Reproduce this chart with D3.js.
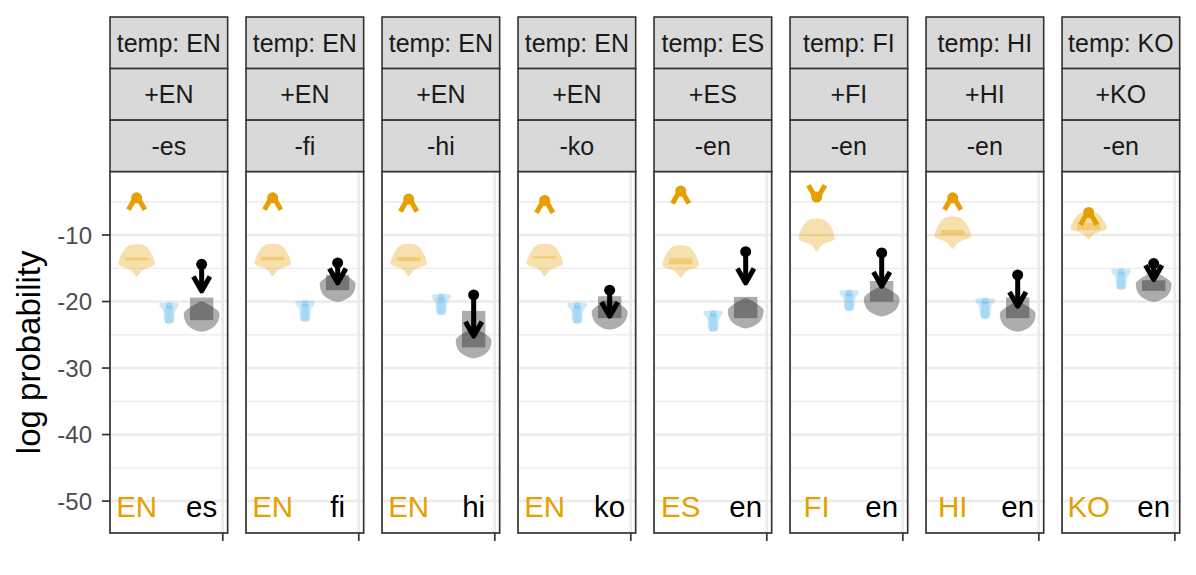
<!DOCTYPE html>
<html>
<head>
<meta charset="utf-8">
<script src="https://cdn.jsdelivr.net/npm/d3@7"></script>
<style>
  html, body { margin: 0; padding: 0; background: #fff; }
  svg { display: block; font-family: "Liberation Sans", Arial, sans-serif; }
</style>
</head>
<body>
<svg id="chart" width="1196" height="575"></svg>
<script>
// facet strip labels (three rows)
const tempLabels = ['temp: EN', 'temp: EN', 'temp: EN', 'temp: EN', 'temp: ES', 'temp: FI', 'temp: HI', 'temp: KO'];
const posLabels = ['+EN', '+EN', '+EN', '+EN', '+ES', '+FI', '+HI', '+KO'];
const negLabels = ['-es', '-fi', '-hi', '-ko', '-en', '-en', '-en', '-en'];
// text under the marks
const posText = ['EN', 'EN', 'EN', 'EN', 'ES', 'FI', 'HI', 'KO'];
const negText = ['es', 'fi', 'hi', 'ko', 'en', 'en', 'en', 'en'];

// positive language (orange)
const posArrowFrom = [-4.4, -4.4, -4.6, -4.8, -3.4, -4.3, -4.4, -6.6];
const posArrowTo = [-4.05, -4.05, -4.3, -4.5, -3.1, -4.65, -4.05, -6.3];
const posMode = [-14.33, -14.26, -14.26, -14.26, -14.5, -10.5, -10.15, -9.0];
const posSpread = [1, 1, 1, 1, 1, 1, 1, 0.85];
const posLo = [-13.8, -13.8, -13.9, -13.5, -14.4, -10.1, -10.0, -9.25];
const posHi = [-13.4, -13.3, -13.3, -13.2, -13.5, -10.0, -9.25, -8.2];
// control (blue)
const ctrlMode = [-21.8, -21.5, -20.5, -21.8, -23.0, -19.9, -21.1, -16.7];
// negative language (grey / black)
const negHi = [-19.4, -16.0, -21.4, -19.2, -19.3, -16.9, -19.4, -16.8];
const negLo = [-22.8, -18.3, -26.9, -22.5, -22.5, -20.0, -22.5, -18.4];
const negMode = [-21.8, -17.3, -25.8, -21.5, -21.3, -19.5, -21.8, -17.3];
const negArrowFrom = [-14.4, -14.2, -19.0, -18.3, -12.5, -12.7, -16.0, -14.3];
const negArrowTo = [-18.4, -17.2, -25.2, -22.2, -17.2, -17.7, -20.7, -16.7];

// axis breaks
const yTicks = [-10, -20, -30, -40, -50];
const yMinor = [-5, -15, -25, -35, -45];
const xTicks = [3.65];

// violin outlines: [offset from widest point, relative half width]
const posShape = [[2.95, 0], [2.9, 0.26], [2.7, 0.46], [2.2, 0.66], [1.5, 0.82], [0.75, 0.94], [0, 1],
  [-0.3, 0.93], [-0.6, 0.62], [-0.9, 0.36], [-1.2, 0.22], [-1.6, 0.13], [-1.95, 0]];
const negShape = [[1.85, 0], [1.75, 0.1], [1.3, 0.42], [0.7, 0.77], [0.2, 0.97], [0, 1], [-0.5, 0.99],
  [-1.1, 0.93], [-1.7, 0.8], [-2.2, 0.58], [-2.5, 0.36], [-2.68, 0.14], [-2.75, 0]];
const ctrlShape = [[1.6, 0.7], [1.45, 1], [1.0, 0.92], [0.5, 0.66], [0.1, 0.58], [-0.7, 0.56],
  [-1.2, 0.46], [-1.5, 0.28], [-1.62, 0]];

const orange = '#E69F00', blue = '#56B4E9';
const svg = d3.select('#chart');

const fx = d3.scaleBand().domain(d3.range(8)).range([110, 1179.7]).paddingInner(0.135).paddingOuter(0);
const bw = fx.bandwidth();
const x = d3.scaleLinear().domain([0.18, 3.8]).range([0, bw]);
const y = d3.scaleLinear().domain([-54.8, -0.48]).range([533, 171.7]);
const panelTop = 171.7, panelBottom = 533;
const stripTop = 17, stripH = 51.57;

svg.append('defs').append('clipPath').attr('id', 'clip')
  .append('rect').attr('x', 0).attr('y', panelTop).attr('width', bw).attr('height', panelBottom - panelTop);

function violin(g, cx, mode, shape, hw, scale, color, op) {
  const area = d3.area()
    .curve(d3.curveCatmullRom.alpha(0.5))
    .y(d => y(mode + d[0] * scale))
    .x0(d => x(cx - d[1] * hw))
    .x1(d => x(cx + d[1] * hw));
  g.append('path').attr('d', area(shape)).attr('fill', color).attr('fill-opacity', op);
}

function box(g, cx, lo, hi, hw, color, op) {
  g.append('rect')
    .attr('x', x(cx - hw)).attr('width', x(cx + hw) - x(cx - hw))
    .attr('y', y(Math.max(lo, hi))).attr('height', Math.abs(y(lo) - y(hi)))
    .attr('fill', color).attr('fill-opacity', op);
}

function arrow(g, cx, from, to, color) {
  const x0 = x(cx), y0 = y(from), y1 = y(to);
  const dir = Math.sign(y1 - y0) || 1;
  const L = 16.5;
  g.append('line').attr('x1', x0).attr('x2', x0).attr('y1', y0).attr('y2', y1)
    .attr('stroke', color).attr('stroke-width', 5);
  g.append('path')
    .attr('d', `M${x0 - L * 0.5},${y1 - dir * L * 0.866}L${x0},${y1}L${x0 + L * 0.5},${y1 - dir * L * 0.866}`)
    .attr('fill', 'none').attr('stroke', color).attr('stroke-width', 5)
    .attr('stroke-linejoin', 'round');
  g.append('circle').attr('cx', x0).attr('cy', y0).attr('r', 5.5).attr('fill', color);
}

d3.range(8).forEach(i => {
  const g = svg.append('g').attr('transform', `translate(${fx(i)},0)`);

  // strips
  [tempLabels[i], posLabels[i], negLabels[i]].forEach((lab, k) => {
    g.append('rect')
      .attr('x', 0).attr('y', stripTop + k * stripH)
      .attr('width', bw).attr('height', stripH)
      .attr('fill', '#D9D9D9').attr('stroke', '#333333').attr('stroke-width', 1.6);
    g.append('text')
      .attr('x', bw / 2).attr('y', stripTop + k * stripH + stripH / 2)
      .attr('dy', '0.36em').attr('text-anchor', 'middle')
      .attr('font-size', 25).attr('fill', '#1A1A1A')
      .text(lab);
  });

  // panel background + grid
  g.append('rect').attr('x', 0).attr('y', panelTop).attr('width', bw).attr('height', panelBottom - panelTop)
    .attr('fill', '#fff');
  g.selectAll('.minor').data(yMinor).enter().append('line')
    .attr('x1', 0).attr('x2', bw).attr('y1', d => y(d)).attr('y2', d => y(d))
    .attr('stroke', '#EBEBEB').attr('stroke-width', 1.3);
  g.selectAll('.major').data(yTicks).enter().append('line')
    .attr('x1', 0).attr('x2', bw).attr('y1', d => y(d)).attr('y2', d => y(d))
    .attr('stroke', '#EBEBEB').attr('stroke-width', 2.6);
  g.selectAll('.vmajor').data(xTicks).enter().append('line')
    .attr('x1', d => x(d)).attr('x2', d => x(d)).attr('y1', panelTop).attr('y2', panelBottom)
    .attr('stroke', '#EBEBEB').attr('stroke-width', 2.6);

  const p = g.append('g').attr('clip-path', 'url(#clip)');

  // orange group
  violin(p, 1, posMode[i], posShape, 0.56, posSpread[i], orange, 0.32);
  box(p, 1, posLo[i], posHi[i], 0.36, orange, 0.32);

  // blue group
  violin(p, 2, ctrlMode[i], ctrlShape, 0.3, 1, blue, 0.3);
  box(p, 2, ctrlMode[i] - 1.4, ctrlMode[i] + 1.1, 0.12, blue, 0.3);
  p.append('circle').attr('cx', x(2)).attr('cy', y(ctrlMode[i] + 1.2)).attr('r', 3.4)
    .attr('fill', blue).attr('fill-opacity', 0.35);

  // grey group
  violin(p, 3, negMode[i], negShape, 0.55, 1, '#000', 0.32);
  box(p, 3, negLo[i], negHi[i], 0.36, '#000', 0.32);

  arrow(p, 1, posArrowFrom[i], posArrowTo[i], orange);
  arrow(p, 3, negArrowFrom[i], negArrowTo[i], '#000');

  // labels under
  p.append('text').attr('x', x(1)).attr('y', y(-50.86)).attr('dy', '0.36em')
    .attr('text-anchor', 'middle').attr('font-size', 29.5).attr('fill', orange).text(posText[i]);
  p.append('text').attr('x', x(3)).attr('y', y(-50.86)).attr('dy', '0.36em')
    .attr('text-anchor', 'middle').attr('font-size', 29.5).attr('fill', '#000').text(negText[i]);

  // border
  g.append('rect').attr('x', 0).attr('y', panelTop).attr('width', bw).attr('height', panelBottom - panelTop)
    .attr('fill', 'none').attr('stroke', '#333333').attr('stroke-width', 1.7);

  // x ticks (no labels)
  g.selectAll('.xt').data(xTicks).enter().append('line')
    .attr('x1', d => x(d)).attr('x2', d => x(d)).attr('y1', panelBottom).attr('y2', panelBottom + 8)
    .attr('stroke', '#333333').attr('stroke-width', 1.7);

  if (i === 0) {
    g.selectAll('.yt').data(yTicks).enter().append('line')
      .attr('x1', -8).attr('x2', 0).attr('y1', d => y(d)).attr('y2', d => y(d))
      .attr('stroke', '#333333').attr('stroke-width', 1.7);
    g.selectAll('.yl').data(yTicks).enter().append('text')
      .attr('x', -18).attr('y', d => y(d)).attr('dy', '0.36em')
      .attr('text-anchor', 'end').attr('font-size', 24).attr('fill', '#4D4D4D')
      .text(d => d);
  }
});

svg.append('text')
  .attr('transform', `translate(40,${(panelTop + panelBottom) / 2}) rotate(-90)`)
  .attr('text-anchor', 'middle').attr('font-size', 33).attr('fill', '#000')
  .text('log probability');
</script>
</body>
</html>
